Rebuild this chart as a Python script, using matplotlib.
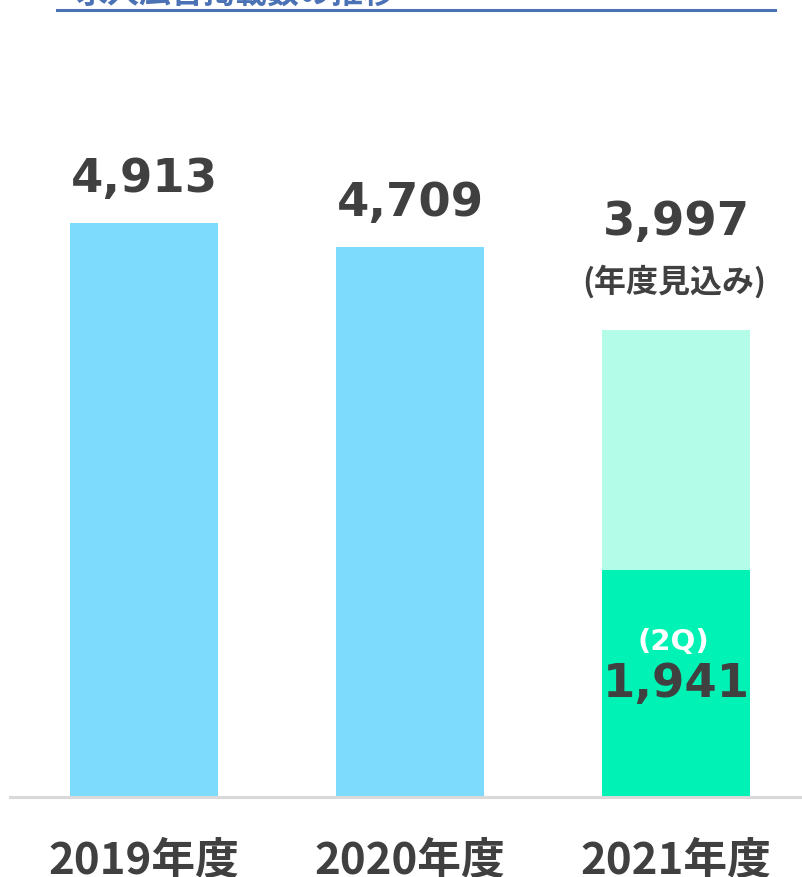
import matplotlib
matplotlib.use("Agg")
import matplotlib.pyplot as plt
from matplotlib.lines import Line2D

categories = ["2019年度", "2020年度", "2021年度"]
actual_values = [4913, 4709, 1941]
forecast_total = 3997
value_labels = ["4,913", "4,709", "1,941"]
forecast_label = "3,997"
forecast_note = "(年度見込み)"
q_note = "(2Q)"
title_text = "求人広告掲載数の推移"

W, H, DPI = 802, 877, 100
fig = plt.figure(figsize=(W / DPI, H / DPI), dpi=DPI)
fig.patch.set_facecolor("white")

base_px = 796  # baseline from top
ax = fig.add_axes([0, (H - base_px) / H, 1, base_px / H])
scale = 573 / 4913  # px per unit
ax.set_ylim(0, base_px / scale)
ax.set_xlim(-144 / 266, (W - 144) / 266)
ax.axis("off")

blue = "#7DDCFE"
green = "#00F2B4"
mint = "#B2FCE8"
dark = "#404040"
bw = 148 / 266

xs = list(range(len(categories)))
colors = [blue, blue, green]
ax.bar(xs, actual_values, width=bw, color=colors, zorder=2)
ax.bar([2], [forecast_total - actual_values[2]], bottom=[actual_values[2]],
       width=bw, color=mint, zorder=2)

num_font = dict(fontsize=33.5, fontweight="bold", color=dark, family=["DejaVu Sans"])

# value labels
for i in range(2):
    ax.annotate(value_labels[i], xy=(i, actual_values[i]), xytext=(0, 31),
                textcoords="offset pixels", ha="center", va="baseline", **num_font)
ax.annotate(forecast_label, xy=(2, forecast_total), xytext=(0, 95),
            textcoords="offset pixels", ha="center", va="baseline", **num_font)
ax.annotate(forecast_note, xy=(2, forecast_total), xytext=(-2, 38),
            textcoords="offset pixels", ha="center", va="baseline",
            fontsize=23, fontweight="bold", color=dark,
            family=["Noto Sans CJK JP", "DejaVu Sans"])
ax.annotate(q_note, xy=(2, actual_values[2]), xytext=(-3, -80),
            textcoords="offset pixels", ha="center", va="baseline",
            fontsize=21, fontweight="bold", color="white", family=["DejaVu Sans"])
ax.annotate(value_labels[2], xy=(2, actual_values[2]), xytext=(0, -127),
            textcoords="offset pixels", ha="center", va="baseline", **num_font)

# category labels
for i, c in enumerate(categories):
    ax.annotate(c, xy=(i, 0), xytext=(0, -78), textcoords="offset pixels",
                ha="center", va="baseline", fontsize=31.5, fontweight="bold",
                color=dark, family=["Noto Sans CJK JP", "DejaVu Sans"],
                annotation_clip=False)

# baseline axis line
fig.add_artist(Line2D([10 / W, 1], [(H - base_px - 1) / H] * 2,
                      color="#D9D9D9", lw=2.2, zorder=3))

# title (cut off at top) and its underline
fig.add_artist(Line2D([57 / W, 775 / W], [(H - 10) / H] * 2,
                      color="#4A72B4", lw=2.2))
fig.text(75 / W, (H - 3) / H, title_text, ha="left", va="baseline",
         fontsize=23, fontweight="bold", color="#4A72B4",
         family=["Noto Sans CJK JP", "DejaVu Sans"])

fig.savefig("out.png", dpi=DPI, facecolor="white")
